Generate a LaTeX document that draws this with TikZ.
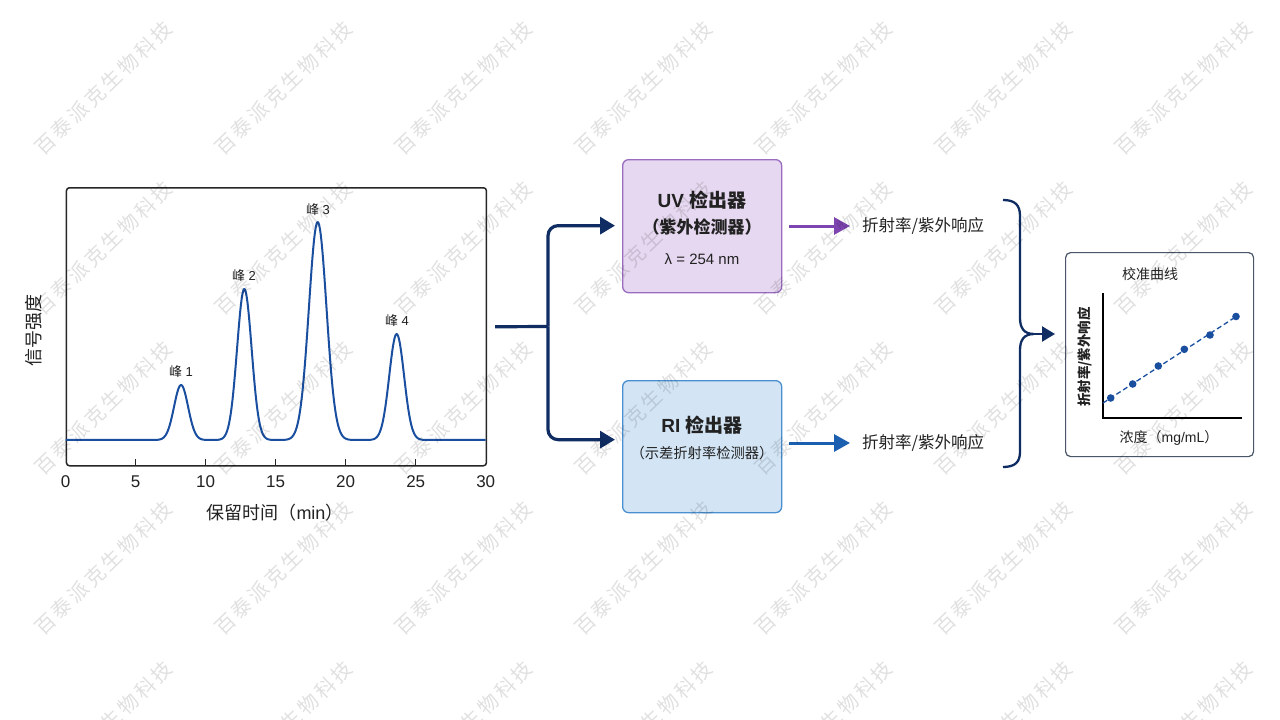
\documentclass[tikz,border=0pt]{standalone}
\usepackage{fontspec}
\setmainfont{Liberation Sans}
\newfontfamily\cjk{Noto Sans CJK SC}
\newfontfamily\wmfont[LetterSpace=16]{Noto Sans CJK SC}
\usetikzlibrary{arrows.meta}
\newcommand\fs[1]{\fontsize{#1pt}{#1pt}\selectfont}
\newcommand\zh[1]{{\cjk #1}}
\definecolor{navy}{HTML}{0F2D63}
\definecolor{curveblue}{HTML}{1A4FA0}
\definecolor{uvfill}{HTML}{E6D8F0}
\definecolor{uvdraw}{HTML}{9A6CC0}
\definecolor{uvarrow}{HTML}{7E44B0}
\definecolor{rifill}{HTML}{D3E5F5}
\definecolor{ridraw}{HTML}{4A8FD0}
\definecolor{riarrow}{HTML}{1A5FB0}
\definecolor{calbox}{HTML}{4A5568}
\definecolor{txt}{HTML}{222222}
\begin{document}
\begin{tikzpicture}[x=1pt,y=-1pt,
  every node/.style={text=txt},
  conn/.style={draw=navy, line width=3.2pt},
  connarrow/.style={conn, -{Triangle[length=15pt,width=17pt]}},
  detbox/.style={rounded corners=6pt, line width=1.3pt, minimum width=159pt, inner sep=0pt, align=center},
  resp/.style={font=\fs{16.5}\cjk, anchor=west, inner sep=2pt},
  peaklbl/.style={font=\fs{13}},
  ticklbl/.style={font=\fs{17}},
  wm/.style={font=\fs{20}\wmfont, text=black, text opacity=0.12, rotate=44, anchor=base west, inner sep=0pt},
]
\useasboundingbox[fill=white] (0,0) rectangle (1280,720);

% ---------- chromatogram ----------
\node[draw=black!85, line width=1.5pt, rounded corners=3pt, minimum width=420pt, minimum height=278pt, inner sep=0pt, anchor=north west] (chart) at (65.7,187) {};
\foreach \t in {5,10,15,20,25}
  \draw[black!85, line width=1.3pt] (65.7+14*\t,465) -- ++(0,-6);
\foreach \t in {0,5,...,30}
  \node[ticklbl] (tick\t) at (65.7+14*\t,482) {\t};
\draw[curveblue, line width=2pt, line join=round]
  plot[domain=0:30, samples=500]
  ({65.7+14*\x},
   {440 - 55*exp(-(\x-8.24)*(\x-8.24)/0.5)
        - 151*exp(-(\x-12.76)*(\x-12.76)/0.54)
        - 218*exp(-(\x-18.0)*(\x-18.0)/0.79)
        - 106*exp(-(\x-23.64)*(\x-23.64)/0.56)});
\node[peaklbl] (pk1) at (181,372) {\zh{峰} 1};
\node[peaklbl] (pk2) at (244,276) {\zh{峰} 2};
\node[peaklbl] (pk3) at (318,210) {\zh{峰} 3};
\node[peaklbl] (pk4) at (397,321) {\zh{峰} 4};
\node[font=\fs{18}\cjk, rotate=90] (ylab) at (34,330) {信号强度};
\node[font=\fs{18}] (xlab) at (275,513) {\zh{保留时间（}min\zh{）}};

% ---------- detectors ----------
\node[detbox, draw=uvdraw, fill=uvfill, minimum height=133pt, anchor=north west] (uv) at (622,159) {};
\node[font=\fs{19}\bfseries] (uvt1) at (702,200) {UV \zh{检出器}};
\node[font=\fs{17}\bfseries\cjk] (uvt2) at (702,227) {（紫外检测器）};
\node[font=\fs{15}] (uvt3) at (702,259) {λ = 254 nm};

\node[detbox, draw=ridraw, fill=rifill, minimum height=132pt, anchor=north west] (ri) at (622,380) {};
\node[font=\fs{19}\bfseries] (rit1) at (702,425) {RI \zh{检出器}};
\node[font=\fs{14.3}\cjk] (rit2) at (702,453) {（示差折射率检测器）};

% ---------- connector from chart ----------
\coordinate (j) at (548,326.5);
\draw[conn] ([xshift=8pt]chart.east) -- (j);
\draw[connarrow, rounded corners=10pt, shorten >=7pt] (j) |- ([yshift=0.5pt]uv.west);
\draw[connarrow, rounded corners=10pt, shorten >=7pt] (j) |- ([yshift=7pt]ri.west);

% ---------- responses ----------
\node[resp] (r1) at (860,226) {折射率/紫外响应};
\node[resp] (r2) at (860,443) {折射率/紫外响应};
\draw[draw=uvarrow, line width=3pt, -{Triangle[length=16pt,width=17pt]}, shorten <=7pt, shorten >=10pt] (uv.east |- r1.west) -- (r1.west);
\draw[draw=riarrow, line width=3pt, -{Triangle[length=16pt,width=17pt]}, shorten <=7pt, shorten >=10pt] (ri.east |- r2.west) -- (r2.west);

% ---------- brace ----------
\coordinate (btop) at (1003,200);
\coordinate (bbot) at (1003,467);
\coordinate (btip) at (1034,334);
\draw[navy, line width=2.3pt]
  (btop) .. controls (1015,200) and (1020,205) .. (1020,216)
  -- (1020,318) .. controls (1020,328) and (1024,334) .. (btip)
  .. controls (1024,334) and (1020,340) .. (1020,350)
  -- (1020,452) .. controls (1020,462) and (1015,467) .. (bbot);

% ---------- calibration curve ----------
\node[draw=calbox, line width=1.2pt, rounded corners=5pt, fill=white, minimum width=188pt, minimum height=204pt, inner sep=0pt, anchor=north west] (cal) at (1065,252) {};
\draw[navy, line width=2.3pt, -{Triangle[length=13pt,width=15pt]}, shorten >=10pt] (btip) -- (btip -| cal.west);
\node[font=\fs{14}\cjk] (caltitle) at (1150,274) {校准曲线};
\coordinate (origin) at (1103,418);
\draw[black, line width=1.6pt] (1103,293) -- (origin) -- (1242,418);
\node[font=\fs{13.5}\bfseries\cjk, rotate=90] (calylab) at (1085,357) {折射率/紫外响应};
\node[font=\fs{14}] (calxlab) at (1169,438) {\zh{浓度（}mg/mL\zh{）}};
\draw[curveblue, line width=1.3pt, dash pattern=on 5pt off 3pt] (1103,403) -- (1237,316);
\foreach \px/\py [count=\k] in {1110.7/398, 1132.7/384, 1158.3/366, 1184.3/349.3, 1210/335, 1236/316.5}
  \fill[curveblue] (\px,\py) circle (3.8pt) node[inner sep=0pt] (pt\k) {};

% ---------- watermark ----------
\begin{scope}
\clip (0,0) rectangle (1280,720);
\foreach \i in {0,...,6}
  \foreach \jj in {-1,...,4}
    \node[wm] (wm-\i-\jj) at (43+180*\i, 157+160*\jj) {百泰派克生物科技};
\end{scope}
\end{tikzpicture}
\end{document}
